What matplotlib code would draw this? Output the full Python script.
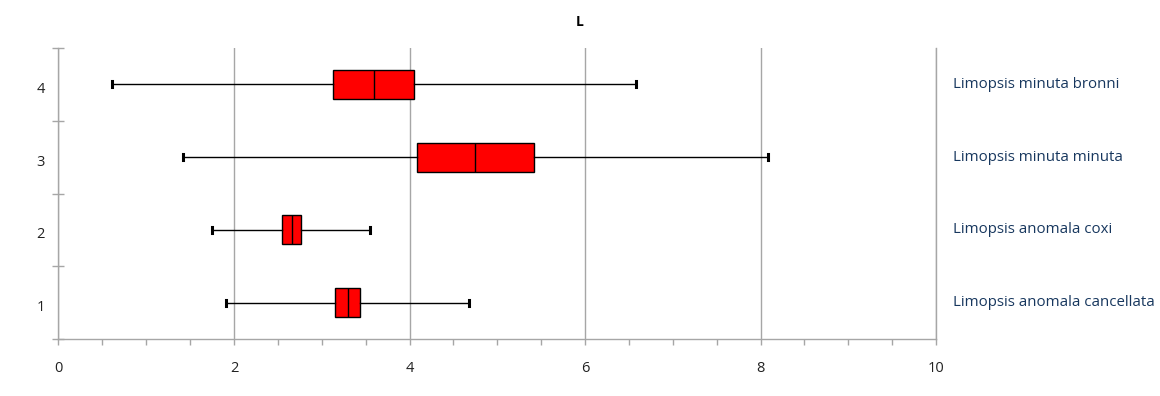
import matplotlib
matplotlib.use("Agg")
import matplotlib.pyplot as plt
from matplotlib.ticker import MultipleLocator, FixedLocator
from matplotlib.transforms import ScaledTranslation

# Daten
positions = [1, 2, 3, 4]
labels = ["Limopsis anomala cancellata", "Limopsis anomala coxi",
          "Limopsis minuta minuta", "Limopsis minuta bronni"]
whislo = [1.91, 1.75, 1.42, 0.61]
q1 = [3.15, 2.55, 4.09, 3.13]
med = [3.30, 2.66, 4.75, 3.60]
q3 = [3.44, 2.76, 5.42, 4.05]
whishi = [4.68, 3.55, 8.09, 6.58]

plt.rcParams['font.family'] = ['Open Sans', 'DejaVu Sans']

stats = []
for i in range(len(positions)):
    stats.append({"whislo": whislo[i], "q1": q1[i], "med": med[i],
                  "q3": q3[i], "whishi": whishi[i], "fliers": []})

fig = plt.figure(figsize=(11.6, 3.96), dpi=100)
ax = fig.add_axes([58.5 / 1160, 1 - 339 / 396, 877.5 / 1160, 291 / 396])

grey = "#a6a6a6"
ax.bxp(stats, positions=positions, orientation="horizontal", widths=0.4,
       capwidths=0.08, patch_artist=True, showfliers=False,
       boxprops=dict(facecolor="#ff0000", edgecolor="black", linewidth=1),
       medianprops=dict(color="black", linewidth=1),
       whiskerprops=dict(color="black", linewidth=1),
       capprops=dict(color="black", linewidth=2.2), zorder=3)

ax.set_xlim(0, 10)
ax.set_ylim(0.5, 4.5)

# Gitter nur vertikal
ax.xaxis.set_major_locator(MultipleLocator(2))
ax.xaxis.set_minor_locator(MultipleLocator(0.5))
ax.grid(True, axis="x", which="major", color=grey, linewidth=1)
ax.set_axisbelow(True)

ax.yaxis.set_major_locator(FixedLocator([0.5, 1.5, 2.5, 3.5, 4.5]))
ax.yaxis.set_minor_locator(FixedLocator(positions))
ax.set_yticklabels([])
ax.set_yticklabels([str(p) for p in positions], minor=True)
ax.tick_params(axis="y", which="major", direction="inout", length=9,
               color=grey, width=1)
ax.tick_params(axis="y", which="minor", length=0, pad=10, labelsize=10.5,
               labelcolor="#222222")
ax.tick_params(axis="x", which="both", direction="out", length=4,
               color=grey, width=1, pad=12, labelsize=10.5,
               labelcolor="#222222")

# y-Beschriftung etwas nach unten versetzt wie im Original
off = ScaledTranslation(0, -3 / 100, fig.dpi_scale_trans)
for lbl in ax.yaxis.get_minorticklabels():
    lbl.set_transform(lbl.get_transform() + off)

ax.spines["top"].set_visible(False)
for s in ["left", "bottom", "right"]:
    ax.spines[s].set_color(grey)
    ax.spines[s].set_linewidth(1)

# Beschriftungen rechts
for p, lab in zip(positions, labels):
    ax.text(1.019, p, lab, transform=ax.get_yaxis_transform(),
            va="center", ha="left", fontsize=10.8, color="#17375e")

fig.suptitle("L", y=1 - 22 / 396, fontsize=10, fontweight="bold", va="center")

fig.savefig("out.png", dpi=100)
